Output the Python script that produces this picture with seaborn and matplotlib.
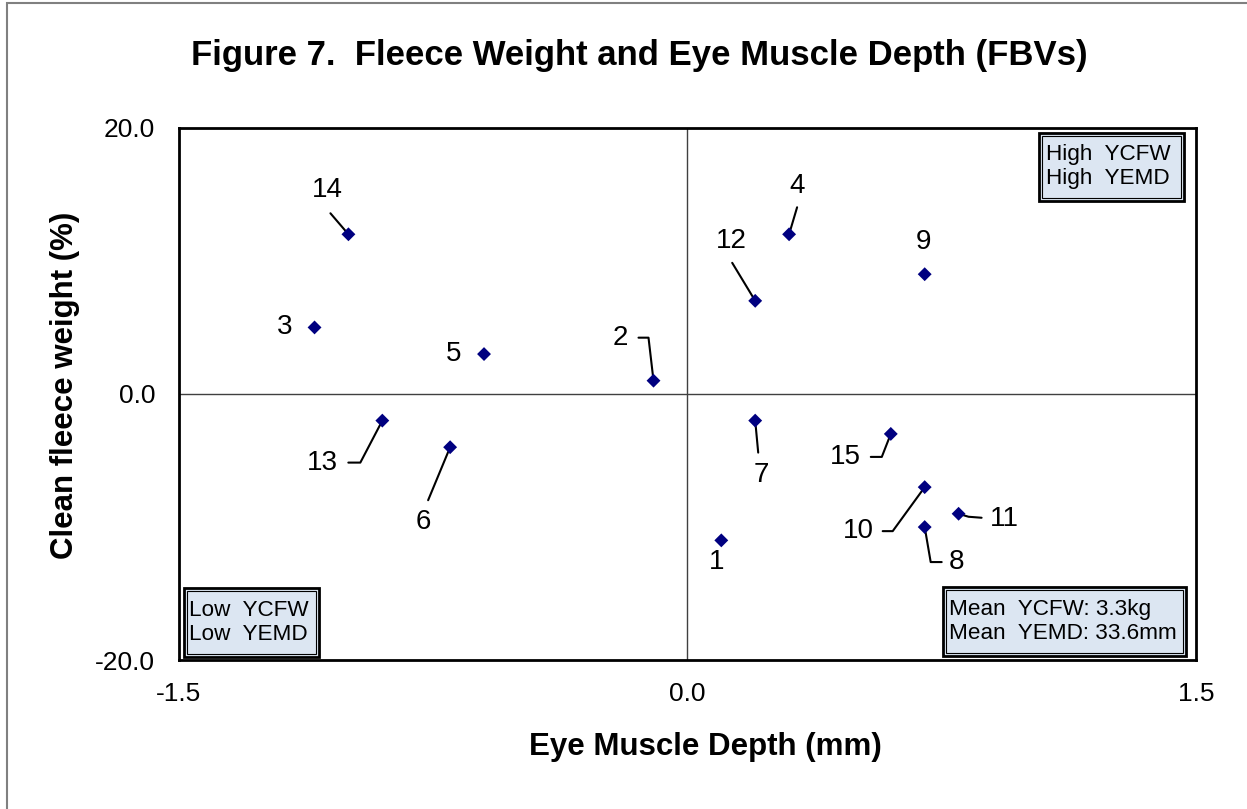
import matplotlib
matplotlib.use("Agg")
import matplotlib.pyplot as plt
from matplotlib.patches import Rectangle
from matplotlib.lines import Line2D
from matplotlib.transforms import IdentityTransform
import seaborn as sns
import pandas as pd

# Datos: FBVs por sire
sire_ids = [1, 2, 3, 4, 5, 6, 7, 8, 9, 10, 11, 12, 13, 14, 15]
emd_fbv = [0.1, -0.1, -1.1, 0.3, -0.6, -0.7, 0.2, 0.7, 0.7, 0.7, 0.8, 0.2, -0.9, -1.0, 0.6]
cfw_fbv = [-11, 1, 5, 12, 3, -4, -2, -10, 9, -7, -9, 7, -2, 12, -3]

x_ticks = [-1.5, 0.0, 1.5]
y_ticks = [-20.0, 0.0, 20.0]

title = "Figure 7.  Fleece Weight and Eye Muscle Depth (FBVs)"
x_label = "Eye Muscle Depth (mm)"
y_label = "Clean fleece weight (%)"
box_high = "High  YCFW\nHigh  YEMD"
box_low = "Low  YCFW\nLow  YEMD"
box_mean = "Mean  YCFW: 3.3kg\nMean  YEMD: 33.6mm"

# posición de etiquetas (offset en px) y líneas guía (vértices relativos al punto)
label_layout = {
    1: ((-5, -22), None),
    2: ((-33, 43), [(-15, 43), (-5, 43), (0, 0)]),
    3: ((-30, 0), None),
    4: ((8, 48), [(8, 27), (0, 0)]),
    5: ((-30, 0), None),
    6: ((-27, -75), [(-22, -53), (0, 0)]),
    7: ((6, -54), [(3, -32), (0, 0)]),
    8: ((32, -35), [(0, 0), (6, -35), (17, -35)]),
    9: ((-1, 32), None),
    10: ((-66, -44), [(-42, -44), (-32, -44), (0, 0)]),
    11: ((46, -5), [(0, 0), (10, -3), (23, -4)]),
    12: ((-24, 60), [(-23, 38), (0, 0)]),
    13: ((-60, -42), [(-34, -42), (-22, -42), (0, 0)]),
    14: ((-21, 44), [(-18, 21), (0, 0)]),
    15: ((-45, -23), [(-20, -23), (-9, -23), (0, 0)]),
}

sns.set_theme(style="white")
plt.rcParams['font.family'] = ['Liberation Sans', 'DejaVu Sans']
plt.rcParams['text.color'] = 'black'
plt.rcParams['axes.labelcolor'] = 'black'
plt.rcParams['xtick.color'] = 'black'
plt.rcParams['ytick.color'] = 'black'

df = pd.DataFrame({"sire": sire_ids, "emd": emd_fbv, "cfw": cfw_fbv})

fig = plt.figure(figsize=(12.47, 8.09), dpi=100)
ax = fig.add_axes([0.1435, 0.184, 0.8155, 0.658])

# borde de la figura
fig.patches.append(Rectangle((0.0056, -0.05), 1.2, 1.0463, transform=fig.transFigure,
                             fill=False, edgecolor='#808080', linewidth=1.5))

ax.set_xlim(-1.5, 1.5)
ax.set_ylim(-20, 20)
ax.axhline(0, color='#404040', linewidth=1, zorder=1)
ax.axvline(0, color='#404040', linewidth=1, zorder=1)

sns.scatterplot(data=df, x="emd", y="cfw", marker='D', s=50, color='#000080',
                edgecolor='none', legend=False, ax=ax, zorder=3)

ax.set_xticks(x_ticks)
ax.set_xticklabels([f"{v:.1f}" for v in x_ticks])
ax.set_yticks(y_ticks)
ax.set_yticklabels([f"{v:.1f}" for v in y_ticks])
ax.tick_params(axis='x', length=0, pad=16, labelsize=19)
ax.tick_params(axis='y', length=0, pad=17, labelsize=19)

for s in ax.spines.values():
    s.set_color('black')
    s.set_linewidth(2)

ax.set_xlabel(x_label, fontsize=22.5, fontweight='bold', va='center')
ax.set_ylabel(y_label, fontsize=22.5, fontweight='bold', va='center')
ax.xaxis.set_label_coords(0.518, -0.1635)
ax.yaxis.set_label_coords(-0.112, 0.517)

fig.text(0.513, 0.931, title, ha='center', va='center', fontsize=25, fontweight='bold')

# etiquetas de puntos
for sid, x, y in zip(sire_ids, emd_fbv, cfw_fbv):
    (dx, dy), leader = label_layout[sid]
    ax.annotate(str(sid), xy=(x, y), xytext=(dx, dy), textcoords='offset pixels',
                ha='center', va='center', fontsize=20)
    if leader:
        px, py = ax.transData.transform((x, y))
        xs = [px + v[0] for v in leader]
        ys = [py + v[1] for v in leader]
        ax.add_line(Line2D(xs, ys, transform=IdentityTransform(), color='black',
                           linewidth=1.5, clip_on=False, zorder=2))


# cuadros de texto con doble borde
def text_box(x0, y0, x1, y1, text, tx):
    ax.add_patch(Rectangle((x0, y0), x1 - x0, y1 - y0, transform=ax.transAxes,
                           facecolor='#dce6f2', edgecolor='black', linewidth=2, zorder=4))
    ax.add_patch(Rectangle((x0 + 0.003, y0 + 0.006), x1 - x0 - 0.006, y1 - y0 - 0.012,
                           transform=ax.transAxes, fill=False, edgecolor='black',
                           linewidth=0.8, zorder=4))
    ax.text(tx, (y0 + y1) / 2, text, transform=ax.transAxes, ha='left', va='center',
            fontsize=16.2, linespacing=1.2, zorder=5)


text_box(0.846, 0.863, 0.988, 0.991, box_high, 0.853)
text_box(0.005, 0.0056, 0.1377, 0.135, box_low, 0.010)
text_box(0.751, 0.0075, 0.990, 0.137, box_mean, 0.757)

plt.savefig("out.png", dpi=100)
plt.close()
